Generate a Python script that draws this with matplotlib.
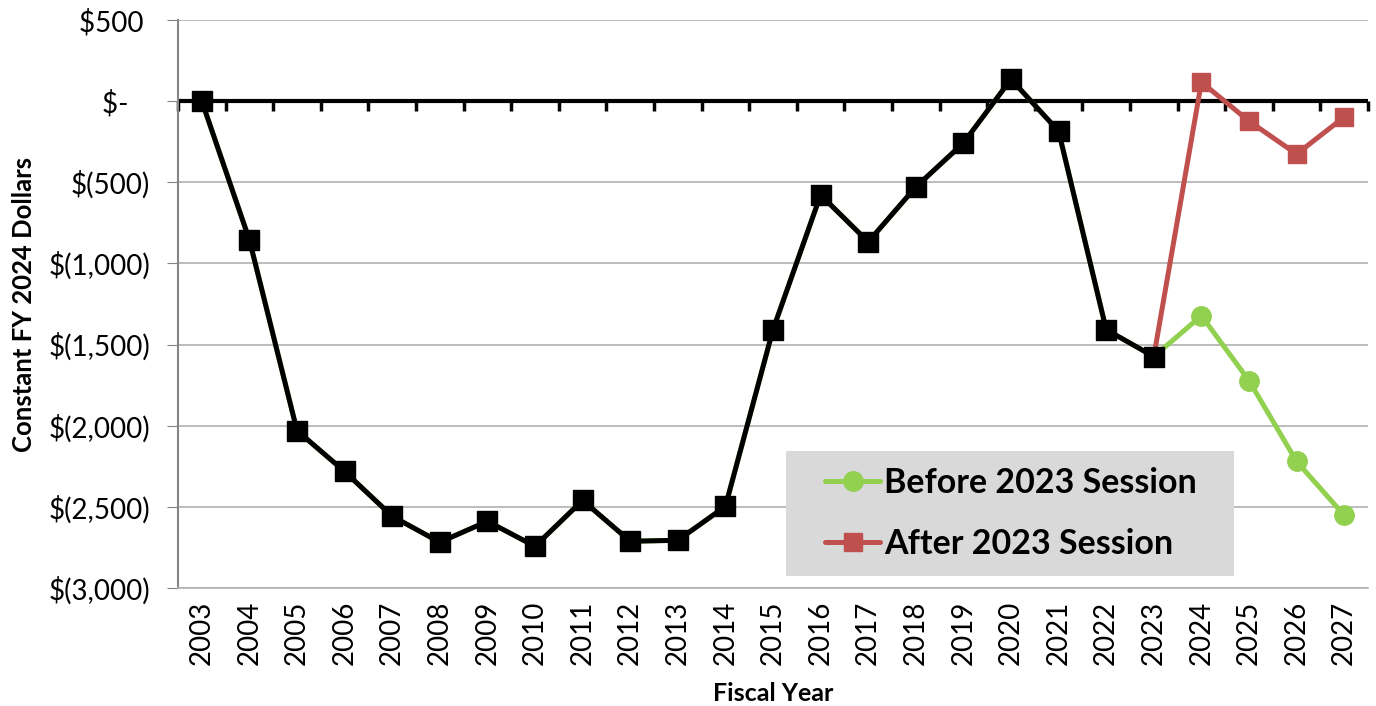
import matplotlib
matplotlib.use("Agg")
import matplotlib.pyplot as plt
from matplotlib.patches import Rectangle
import numpy as np

years = [str(y) for y in range(2003, 2028)]
actual = [0, -855, -2030, -2282, -2558, -2718, -2589, -2743, -2460, -2712, -2706,
          -2497, -1408, -578, -867, -529, -258, 135, -185, -1408, -1574]
before_proj = [-1322, -1722, -2220, -2552]
after_proj = [117, -123, -326, -98]
yticks = [500, 0, -500, -1000, -1500, -2000, -2500, -3000]
ytick_labels = ["$500 ", "$-   ", "$(500)", "$(1,000)", "$(1,500)", "$(2,000)", "$(2,500)", "$(3,000)"]

before = actual + before_proj
after = [actual[-1]] + after_proj

plt.rcParams['font.family'] = ['Lato', 'DejaVu Sans']

fig = plt.figure(figsize=(13.76, 7.06), dpi=100)
ax = fig.add_axes([178/1376, 1-588/706, 1190/1376, 568/706])

x_all = np.arange(len(years))
x_act = np.arange(len(actual))
x_after = np.arange(len(actual)-1, len(years))

GREEN = '#92D050'
RED = '#C0504D'

ax.plot(x_all, before, color=GREEN, lw=3.6, marker='o', ms=14, zorder=3,
        label='Before 2023 Session', solid_capstyle='round')
ax.plot(x_after, after, color=RED, lw=3.6, marker='s', ms=13, zorder=3,
        label='After 2023 Session', solid_capstyle='round')
ax.plot(x_act, actual, color='black', lw=3.6, marker='s', ms=15, zorder=4)

ax.set_xlim(-0.5, len(years)-0.5)
ax.set_ylim(-3000, 500)
ax.set_yticks(yticks)
ax.set_yticklabels(ytick_labels, fontsize=20)
ax.set_xticks(x_all)
ax.set_xticklabels(years, rotation=90, fontsize=20)
ax.tick_params(axis='x', length=0, pad=9)
ax.tick_params(axis='y', length=8, color='#868686', pad=12)
ax.grid(axis='y', color='#B0B0B0', lw=1.2, zorder=0)
ax.set_axisbelow(True)
for s in ['top', 'right']:
    ax.spines[s].set_visible(False)
ax.spines['left'].set_color('#868686')
ax.spines['left'].set_linewidth(1.5)
ax.spines['bottom'].set_color('#B0B0B0')
ax.spines['bottom'].set_linewidth(1.2)

# zero axis line with category-boundary ticks
ax.axhline(0, color='black', lw=3, zorder=2.5)
zero_frac = (0 - (-3000)) / (500 - (-3000))
sec = ax.secondary_xaxis(zero_frac)
sec.set_xticks(np.arange(-0.5, len(years), 1.0))
sec.set_xticklabels([])
sec.xaxis.set_ticks_position('bottom')
sec.tick_params(axis='x', direction='out', length=7, width=2.5, color='black')
sec.spines['bottom'].set_visible(False)
sec.spines['top'].set_visible(False)

ax.set_xlabel('Fiscal Year', fontsize=18, fontweight='bold', labelpad=12)
ax.set_ylabel('Constant FY 2024 Dollars', fontsize=18.5, fontweight='bold', labelpad=9)

# legend background box
ax.add_patch(Rectangle((0.511, 0.021), 0.376, 0.22, transform=ax.transAxes,
                       facecolor='#D9D9D9', edgecolor='none', zorder=5))
leg = ax.legend(loc='upper left', bbox_to_anchor=(0.5437, 0.213),
                prop={'weight': 'bold', 'size': 24.5}, frameon=False, handlelength=1.62,
                handletextpad=0.12, labelspacing=0.85, borderpad=0, borderaxespad=0)
leg.set_zorder(6)

fig.savefig('out.png', dpi=100)
